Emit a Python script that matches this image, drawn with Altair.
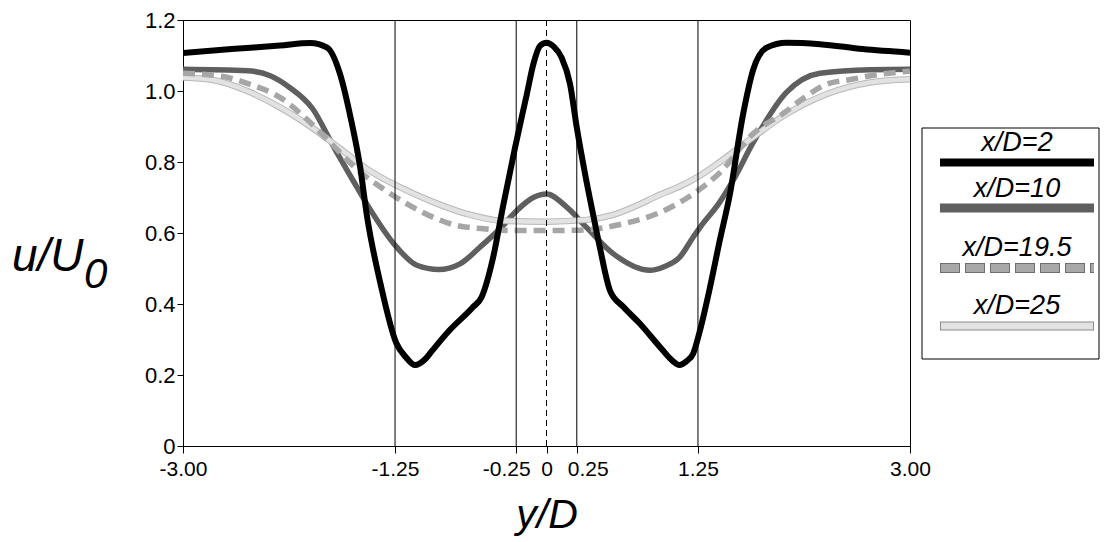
import altair as alt
import pandas as pd

# ---------------- data ----------------
x2 = [-3.0, -2.6, -2.2, -1.95, -1.81, -1.70, -1.62, -1.54, -1.48, -1.37, -1.24, -1.16,
      -1.085, -1.0, -0.94, -0.80, -0.61, -0.535, -0.44, -0.36, -0.26, -0.163, -0.109,
      -0.054, 0.0, 0.06, 0.125, 0.194, 0.25, 0.318, 0.386, 0.44, 0.524, 0.634, 0.77,
      0.936, 1.04, 1.096, 1.16, 1.21, 1.267, 1.35, 1.43, 1.514, 1.62, 1.706, 1.817,
      1.98, 2.257, 2.61, 3.0]
u2 = [1.107, 1.118, 1.128, 1.135, 1.122, 1.043, 0.93, 0.79, 0.644, 0.457, 0.29, 0.25,
      0.228, 0.245, 0.27, 0.326, 0.39, 0.42, 0.532, 0.673, 0.84, 0.99, 1.075,
      1.127, 1.136, 1.125, 1.094, 1.02, 0.897, 0.767, 0.65, 0.56, 0.438, 0.392, 0.345,
      0.279, 0.24, 0.228, 0.24, 0.26, 0.326, 0.448, 0.579, 0.71, 0.93, 1.06, 1.122,
      1.136, 1.132, 1.118, 1.108]

x10 = [-3.0, -2.47, -2.28, -2.12, -1.93, -1.76, -1.60, -1.48, -1.236, -1.07, -0.89,
       -0.714, -0.55, -0.384, -0.246, -0.109, 0.0, 0.167, 0.33, 0.55, 0.854, 0.97,
       1.10, 1.21, 1.267, 1.43, 1.54, 1.706, 1.98, 2.257, 2.67, 3.0]
u10 = [1.061, 1.057, 1.043, 1.01, 0.95, 0.845, 0.75, 0.68, 0.56, 0.509, 0.497,
       0.513, 0.56, 0.612, 0.663, 0.70, 0.71, 0.673, 0.616, 0.542, 0.495, 0.505,
       0.532, 0.588, 0.616, 0.687, 0.748, 0.855, 0.996, 1.05, 1.06, 1.061]

x195 = [-3.0, -2.67, -2.45, -2.20, -1.98, -1.76, -1.566, -1.346, -1.126, -0.934, -0.74,
        -0.52, -0.27, 0.0, 0.27, 0.634, 0.91, 1.21, 1.43, 1.706, 1.968, 2.13, 2.31,
        2.52, 2.71, 3.0]
u195 = [1.05, 1.041, 1.019, 0.982, 0.921, 0.846, 0.78, 0.724, 0.677, 0.644, 0.621,
        0.612, 0.607, 0.607, 0.608, 0.626, 0.654, 0.71, 0.77, 0.88, 0.94, 0.982, 1.019,
        1.033, 1.045, 1.056]

x25 = [-3.0, -2.75, -2.47, -2.20, -1.92, -1.70, -1.48, -1.21, -0.934, -0.66, -0.384,
       0.0, 0.33, 0.55, 0.77, 0.88, 1.18, 1.267, 1.43, 1.706, 1.98, 2.31, 2.67, 3.0]
u25 = [1.038, 1.031, 1.0, 0.954, 0.893, 0.837, 0.78, 0.729, 0.687, 0.654, 0.635,
       0.632, 0.637, 0.651, 0.681, 0.699, 0.745, 0.762, 0.80, 0.87, 0.935, 0.991, 1.024, 1.033]

solid_rules = [-1.25, -0.25, 0.25, 1.25]
dashed_rules = [0.0]
x_ticks = [-3.0, -1.25, -0.25, 0.0, 0.25, 1.25, 3.0]
y_ticks = [0.0, 0.2, 0.4, 0.6, 0.8, 1.0, 1.2]
legend_labels = ["x/D=2", "x/D=10", "x/D=19.5", "x/D=25"]

FONT = "Liberation Sans"
W, H = 727, 426

xscale = alt.Scale(domain=[-3, 3], nice=False, zero=False)
yscale = alt.Scale(domain=[0, 1.2], nice=False, zero=True)

xaxis = alt.Axis(values=x_ticks, grid=False, domainColor="black", tickColor="black",
                 tickSize=7, labelFontSize=21, labelFont=FONT, labelColor="black",
                 labelPadding=5, labelFlush=False, labelOverlap=False,
                 labelOffset={"condition": [{"test": "datum.value == -0.25", "value": -10},
                                            {"test": "datum.value == 0.25", "value": 11}],
                              "value": 0},
                 labelExpr="datum.value == 0 ? '0' : (datum.value < 0 ? '-' : '') + format(abs(datum.value), '.2f')",
                 title="y/D", titleFont=FONT, titleFontSize=41, titleFontStyle="italic",
                 titleFontWeight="normal", titleColor="black", titleY=81,
                 titleBaseline="alphabetic")
yaxis = alt.Axis(values=y_ticks, grid=False, domainColor="black", tickColor="black",
                 tickSize=6, labelFontSize=22, labelFont=FONT, labelColor="black",
                 labelPadding=2, labelFlush=False,
                 labelExpr="datum.value == 0 ? '0' : format(datum.value, '.1f')",
                 title=None)

XE = alt.X("pos:Q", scale=xscale, axis=xaxis)
YE = alt.Y("u:Q", scale=yscale, axis=yaxis)


def series_df(xs, us):
    return pd.DataFrame({"pos": xs, "u": us})


def line(df, color, width, dash=None):
    kw = dict(color=color, strokeWidth=width, interpolate="monotone", clip=True,
              strokeCap="butt", strokeJoin="round")
    if dash:
        kw["strokeDash"] = dash
    return alt.Chart(df).mark_line(**kw).encode(x=XE, y=YE)


l10 = line(series_df(x10, u10), "#5f5f5f", 5.5)
l25o = line(series_df(x25, u25), "#b8b8b8", 6.5)
l25 = line(series_df(x25, u25), "#e2e2e2", 4.5)
l195 = line(series_df(x195, u195), "#a6a6a6", 5.5, dash=[12, 7])
l2 = line(series_df(x2, u2), "black", 6)

rules_solid = alt.Chart(pd.DataFrame({"pos": solid_rules})).mark_rule(
    color="black", strokeWidth=1).encode(x=XE)
rules_dash = alt.Chart(pd.DataFrame({"pos": dashed_rules})).mark_rule(
    color="black", strokeWidth=1, strokeDash=[6, 4]).encode(x=XE)

# y-axis title u/U0 (real text)
one = pd.DataFrame({"t": [0]})
ytitle = alt.Chart(one).mark_text(text="u/U", font=FONT, fontSize=46, fontStyle="italic",
                                  align="left", baseline="alphabetic", color="black"
                                  ).encode(x=alt.value(-171), y=alt.value(251))
ysub = alt.Chart(one).mark_text(text="0", font=FONT, fontSize=42, fontStyle="italic",
                                align="left", baseline="alphabetic", color="black"
                                ).encode(x=alt.value(-99), y=alt.value(268))

# ---------------- custom legend (to the right of the plot) ----------------
LX0, LX1 = 757, 911
LXC = (LX0 + LX1) / 2
text_y = [123, 169, 228, 286]
sym_y = [142.5, 188, 248, 306]

box = alt.Chart(one).mark_rect(fill="white", stroke="black", strokeWidth=1).encode(
    x=alt.value(739), x2=alt.value(916), y=alt.value(108), y2=alt.value(339))

leg_layers = [box]
for lab, ty in zip(legend_labels, text_y):
    leg_layers.append(
        alt.Chart(pd.DataFrame({"label": [lab]})).mark_text(
            font=FONT, fontSize=27, fontStyle="italic", align="center",
            baseline="middle", color="black").encode(
            text="label:N", x=alt.value(LXC), y=alt.value(ty)))


def lrule(y, color, width, x0=LX0, x1=LX1, dash=None, dashoff=None):
    kw = dict(color=color, strokeWidth=width, strokeCap="butt")
    if dash:
        kw["strokeDash"] = dash
    if dashoff is not None:
        kw["strokeDashOffset"] = dashoff
    return alt.Chart(one).mark_rule(**kw).encode(
        x=alt.value(x0), x2=alt.value(x1), y=alt.value(y))


leg_layers += [
    lrule(sym_y[0], "black", 8),
    lrule(sym_y[1], "#5f5f5f", 9),
    lrule(sym_y[2], "#6e6e6e", 10, dash=[20, 5]),
    lrule(sym_y[2], "#a8a8a8", 8, dash=[18, 7], dashoff=-1),
    lrule(sym_y[3], "#8c8c8c", 9),
    lrule(sym_y[3], "#e2e2e2", 7, x0=LX0 + 1, x1=LX1 - 1),
]

chart = alt.layer(
    l10, l25o, l25, l195, l2, rules_solid, rules_dash, ytitle, ysub, *leg_layers
).properties(
    width=W, height=H,
    padding={"left": 175, "top": 12, "right": 190, "bottom": 90},
    autosize=alt.AutoSizeParams(type="none"),
    background="white",
).configure_view(stroke="black", strokeWidth=1)

chart.save("out.html", embed_options={"renderer": "svg", "actions": False})
